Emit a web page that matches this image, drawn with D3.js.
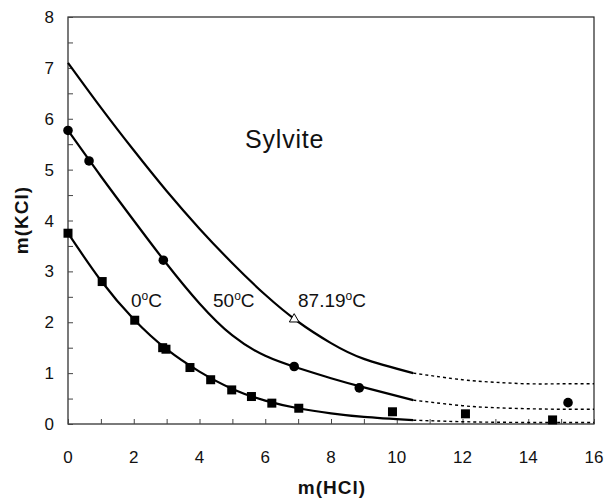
<!DOCTYPE html>
<html>
<head>
<meta charset="utf-8">
<script src="https://cdn.jsdelivr.net/npm/d3@7"></script>
<style>
  body { margin: 0; background: #fff; }
  text { font-family: "Liberation Sans", Arial, sans-serif; fill: #111; }
</style>
</head>
<body>
<script>
// measured points, 0 C (squares)
var sq0X = [0, 1.04, 2.03, 2.88, 2.98, 3.71, 4.34, 4.98, 5.58, 6.2, 7.02, 9.87, 12.09, 14.74];
var sq0Y = [3.75, 2.80, 2.04, 1.50, 1.47, 1.11, 0.87, 0.67, 0.54, 0.41, 0.31, 0.24, 0.20, 0.08];
// measured points, 50 C (circles)
var c50X = [0, 0.64, 2.9, 6.88, 8.86, 15.21];
var c50Y = [5.77, 5.17, 3.22, 1.13, 0.71, 0.42];
// measured point, 87.19 C (open triangle)
var t87X = [6.88];
var t87Y = [2.06];

// model curves (solid part)
var fitX = [0, 1, 2, 3, 4, 5, 6, 7, 8, 9, 10.5];
var fit0 = [3.75, 2.82, 2.06, 1.47, 1.03, 0.69, 0.46, 0.31, 0.21, 0.14, 0.075];
var fit50 = [5.77, 4.87, 4.0, 3.15, 2.37, 1.74, 1.34, 1.10, 0.90, 0.72, 0.47];
var fit87 = [7.1, 6.22, 5.38, 4.58, 3.84, 3.16, 2.54, 2.01, 1.59, 1.28, 1.0];

// extrapolated (dotted part)
var extX = [10.5, 12, 13, 14, 15, 16];
var ext0 = [0.075, 0.045, 0.035, 0.03, 0.03, 0.03];
var ext50 = [0.47, 0.36, 0.32, 0.30, 0.29, 0.29];
var ext87 = [1.0, 0.87, 0.82, 0.79, 0.79, 0.79];

var xTicks = [0, 2, 4, 6, 8, 10, 12, 14, 16];
var yTicks = [0, 1, 2, 3, 4, 5, 6, 7, 8];

const W = 608, H = 498;
const margin = {top: 17, right: 14, bottom: 74, left: 68};
const width = W - margin.left - margin.right;
const height = H - margin.top - margin.bottom;

const svg = d3.select("body").append("svg")
    .attr("width", W)
    .attr("height", H);

const g = svg.append("g")
    .attr("transform", "translate(" + margin.left + "," + margin.top + ")");

const xScale = d3.scaleLinear().domain([0, 16]).range([0, width]);
const yScale = d3.scaleLinear().domain([0, 8]).range([height, 0]);

// frame
g.append("rect")
    .attr("width", width)
    .attr("height", height)
    .attr("fill", "none")
    .attr("stroke", "#222")
    .attr("stroke-width", 1.2);

// axes: inward ticks
const xAxis = d3.axisBottom(xScale).tickValues(d3.range(0, 17, 1))
    .tickSizeInner(-5).tickSizeOuter(0).tickFormat("");
g.append("g").attr("transform", "translate(0," + height + ")").call(xAxis)
    .call(a => a.select(".domain").remove())
    .call(a => a.selectAll("line").attr("stroke", "#444"));

const yAxis = d3.axisLeft(yScale).tickValues(d3.range(0, 8.01, 0.5))
    .tickSizeInner(-5).tickSizeOuter(0).tickFormat("");
g.append("g").call(yAxis)
    .call(a => a.select(".domain").remove())
    .call(a => a.selectAll("line").attr("stroke", "#444"));

// tick labels
g.selectAll(".xl").data(xTicks).enter().append("text")
    .attr("x", d => xScale(d))
    .attr("y", height + 39)
    .attr("text-anchor", "middle")
    .attr("font-size", "17px")
    .text(d => d);

g.selectAll(".yl").data(yTicks).enter().append("text")
    .attr("x", -14)
    .attr("y", d => yScale(d) + 6)
    .attr("text-anchor", "end")
    .attr("font-size", "17px")
    .text(d => d);

// axis titles
svg.append("text")
    .attr("x", 332)
    .attr("y", 494)
    .attr("text-anchor", "middle")
    .attr("font-size", "19px")
    .attr("font-weight", "bold")
    .attr("letter-spacing", "1px")
    .text("m(HCl)");

svg.append("text")
    .attr("transform", "translate(28,220) rotate(-90)")
    .attr("text-anchor", "middle")
    .attr("font-size", "19px")
    .attr("font-weight", "bold")
    .attr("letter-spacing", "1px")
    .text("m(KCl)");

// lines
const line = d3.line()
    .x(d => xScale(d[0]))
    .y(d => yScale(d[1]))
    .curve(d3.curveNatural);

function drawCurve(xs, ys, dotted) {
    g.append("path")
        .datum(xs.map((x, i) => [x, ys[i]]))
        .attr("d", line)
        .attr("fill", "none")
        .attr("stroke", "#000")
        .attr("stroke-width", dotted ? 1.4 : 2.2)
        .attr("stroke-dasharray", dotted ? "3,3" : null);
}
drawCurve(fitX, fit0, false);
drawCurve(fitX, fit50, false);
drawCurve(fitX, fit87, false);
drawCurve(extX, ext0, true);
drawCurve(extX, ext50, true);
drawCurve(extX, ext87, true);

// markers
g.selectAll(".sq").data(sq0X.map((x, i) => [x, sq0Y[i]])).enter().append("rect")
    .attr("x", d => xScale(d[0]) - 4.5)
    .attr("y", d => yScale(d[1]) - 4.5)
    .attr("width", 9)
    .attr("height", 9)
    .attr("fill", "#000");

g.selectAll(".ci").data(c50X.map((x, i) => [x, c50Y[i]])).enter().append("circle")
    .attr("cx", d => xScale(d[0]))
    .attr("cy", d => yScale(d[1]))
    .attr("r", 4.8)
    .attr("fill", "#000");

g.selectAll(".tr").data(t87X.map((x, i) => [x, t87Y[i]])).enter().append("path")
    .attr("transform", d => "translate(" + xScale(d[0]) + "," + yScale(d[1]) + ")")
    .attr("d", d3.symbol(d3.symbolTriangle, 40))
    .attr("fill", "#fff")
    .attr("stroke", "#000")
    .attr("stroke-width", 1);

// annotations
g.append("text")
    .attr("x", 245 - margin.left)
    .attr("y", 148 - margin.top)
    .attr("font-size", "25px")
    .attr("letter-spacing", "0.8px")
    .text("Sylvite");

function tempLabel(x, y, num) {
    const t = g.append("text")
        .attr("x", x - margin.left)
        .attr("y", y - margin.top)
        .attr("font-size", "19px");
    t.append("tspan").text(num);
    t.append("tspan").attr("font-size", "12px").attr("dy", "-7").text("o");
    t.append("tspan").attr("dy", "7").text("C");
}
tempLabel(131, 307, "0");
tempLabel(213, 307, "50");
tempLabel(298, 307, "87.19");
</script>
</body>
</html>
